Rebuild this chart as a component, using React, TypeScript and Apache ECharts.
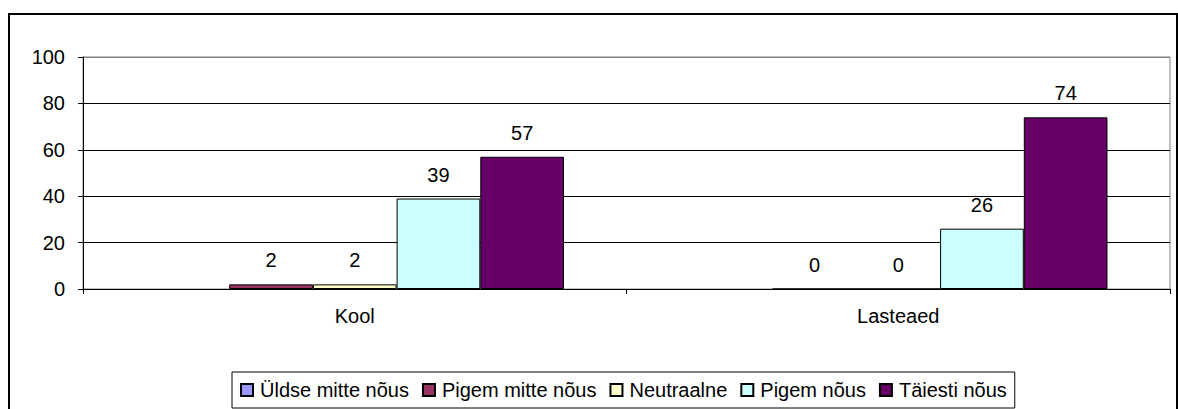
import React, { useEffect, useRef } from "react";
import * as echarts from "echarts";

const categories = ["Kool", "Lasteaed"];
const seriesNames = ["Üldse mitte nõus", "Pigem mitte nõus", "Neutraalne", "Pigem nõus", "Täiesti nõus"];
const uldseMitte = [null, null];
const pigemMitte = [2, 0];
const neutraalne = [2, 0];
const pigemNous = [39, 26];
const taiestiNous = [57, 74];
const colors = ["#9999FF", "#993366", "#FFFFCC", "#CCFFFF", "#660066"];

const FONT = "'Liberation Sans', Arial, sans-serif";

export default function App() {
  const ref = useRef<HTMLDivElement>(null);
  useEffect(() => {
    if (!ref.current) return;
    document.documentElement.style.overflow = "hidden";
    document.body.style.overflow = "hidden";
    document.body.style.margin = "0";
    const chart = echarts.init(ref.current, null, { renderer: "svg" });
    const values = [uldseMitte, pigemMitte, neutraalne, pigemNous, taiestiNous];
    chart.setOption({
      animation: false,
      textStyle: { fontFamily: FONT, color: "#000" },
      graphic: [
        {
          type: "rect",
          shape: { x: 9, y: 14, width: 1168, height: 420 },
          style: { fill: "none", stroke: "#000", lineWidth: 2 },
          silent: true,
        },
      ],
      grid: {
        left: 83,
        top: 57,
        right: 8,
        bottom: 120,
        show: true,
        borderColor: "#808080",
        borderWidth: 1,
        backgroundColor: "transparent",
      },
      legend: {
        left: 232,
        top: 372,
        padding: [8, 8, 8, 8],
        itemGap: 13,
        itemWidth: 12,
        itemHeight: 12,
        icon: "rect",
        borderColor: "#000",
        borderWidth: 1,
        textStyle: { fontFamily: FONT, fontSize: 20, color: "#000", padding: [0, 0, 0, 2] },
        data: seriesNames,
      },
      xAxis: {
        type: "category",
        data: categories,
        axisLine: { lineStyle: { color: "#000", width: 1 } },
        axisTick: { show: true, length: 5, lineStyle: { color: "#000" } },
        axisLabel: { fontFamily: FONT, fontSize: 20, color: "#000", margin: 17 },
      },
      yAxis: {
        type: "value",
        min: 0,
        max: 100,
        interval: 20,
        axisLine: { show: true, lineStyle: { color: "#000", width: 1 } },
        axisTick: { show: true, length: 5, lineStyle: { color: "#000" } },
        axisLabel: { fontFamily: FONT, fontSize: 20, color: "#000", margin: 18 },
        splitLine: {
          show: true,
          lineStyle: { color: ["#000", "#000", "#000", "#000", "#000", "#808080"], width: 1 },
        },
      },
      series: seriesNames.map((name, i) => ({
        name,
        type: "bar",
        data: values[i],
        barGap: "0%",
        barCategoryGap: "23%",
        itemStyle: { color: colors[i], borderColor: "#000", borderWidth: 1 },
        label: {
          show: true,
          position: "top",
          distance: 14,
          fontFamily: FONT,
          fontSize: 20,
          color: "#000",
        },
      })),
    });
    return () => chart.dispose();
  }, []);
  return <div ref={ref} style={{ width: 1178, height: 409 }} />;
}
